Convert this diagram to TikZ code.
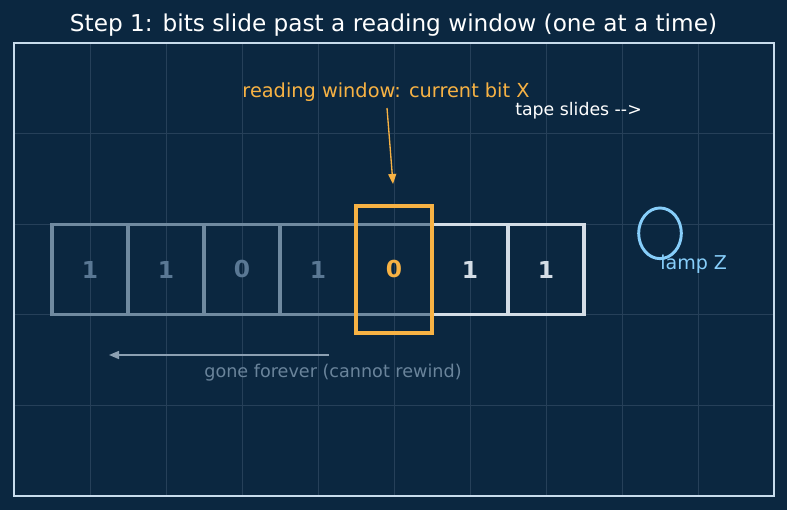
\documentclass[tikz,border=0pt]{standalone}
\usepackage{fontspec}
\setmainfont{DejaVu Sans}
\usepackage{tikz}
\usetikzlibrary{shapes.geometric,arrows.meta}

\definecolor{bgnavy}{RGB}{11,39,64}
\definecolor{gridline}{RGB}{38,64,89}
\definecolor{framecol}{RGB}{200,220,236}
\definecolor{windoworange}{RGB}{247,178,68}
\definecolor{lampblue}{RGB}{135,206,250}
\definecolor{oldedge}{RGB}{112,138,160}
\definecolor{oldbit}{RGB}{90,120,148}
\definecolor{newedge}{RGB}{212,221,230}
\definecolor{gonearrow}{RGB}{140,160,178}
\definecolor{gonetext}{RGB}{106,132,155}

\tikzset{
  oldcell/.style={draw=oldedge, line width=2.3pt, minimum width=57pt, minimum height=68pt, inner sep=0pt, text=oldbit, font=\bfseries\fontsize{17.5}{17.5}\selectfont},
  newcell/.style={oldcell, draw=newedge, text=newedge},
  tiphead/.style={-{Triangle[length=7.5pt, width=6pt]}},
}

\begin{document}
\begin{tikzpicture}[x=0.75pt,y=0.75pt,yscale=-1,xscale=1]
%set diagram size: 787 x 510
\fill[bgnavy] (0,0) rectangle (787,510);
\useasboundingbox (0,0) rectangle (787,510);

%Grid Lines
\foreach \gx in {90,166,242,318,394,470,546,622,698}
  \draw[gridline, line width=0.5pt] (\gx,43) -- (\gx,496);
\foreach \gy in {133.6,224.2,314.8,405.4}
  \draw[gridline, line width=0.5pt] (14,\gy) -- (774,\gy);

%Shape: Rectangle [frame]
\draw[framecol, line width=1.3pt] (14,43) rectangle (774,496);

% Text Node
\draw (393.5,25) node [text=white, font=\fontsize{17.4}{17.4}\selectfont] (title) {Step 1: bits slide past a reading window (one at a time)};

%Shape: Cells of the tape
\draw (90,269.5) node [oldcell] (b1) {1};
\draw (166,269.5) node [oldcell] (b2) {1};
\draw (242,269.5) node [oldcell] (b3) {0};
\draw (318,269.5) node [oldcell] (b4) {1};
\draw (394,269.5) node [oldcell, text=windoworange] (b5) {0};
\draw (470,269.5) node [newcell] (b6) {1};
\draw (546,269.5) node [newcell] (b7) {1};

%Shape: Rectangle [reading window]
\draw (394,269.5) node [draw=windoworange, line width=3pt, minimum width=57pt, minimum height=95.5pt] (window) {};

% Text Node
\draw (386,92) node [text=windoworange, font=\fontsize{14.5}{14.5}\selectfont] (readlabel) {reading window: current bit X};
%Straight Lines
\coordinate (readtip) at (393,184);
\draw[windoworange, line width=1pt, tiphead] (387,108) -- (readtip);

% Text Node
\draw (515,110.5) node [anchor=west, inner sep=0pt, text=white, font=\fontsize{13}{13}\selectfont] (slides) {tape slides -{}-{}>};

%Shape: Circle [lamp]
\draw (660,233.3) node [draw=lampblue, line width=2.2pt, ellipse, minimum width=32pt, minimum height=38pt, inner sep=0pt] (lamp) {};
% Text Node
\draw (660,264) node [anchor=west, inner sep=0pt, text=lampblue, font=\fontsize{14.3}{14.3}\selectfont] (lamplabel) {lamp Z};

%Straight Lines [gone]
\coordinate (gonestart) at (329,355);
\coordinate (goneend) at (109,355);
\draw[gonearrow, line width=1.1pt, tiphead] (gonestart) -- (goneend);
% Text Node
\draw (333,373) node [text=gonetext, font=\fontsize{13.2}{13.2}\selectfont] (gonelabel) {gone forever (cannot rewind)};

\end{tikzpicture}
\end{document}
